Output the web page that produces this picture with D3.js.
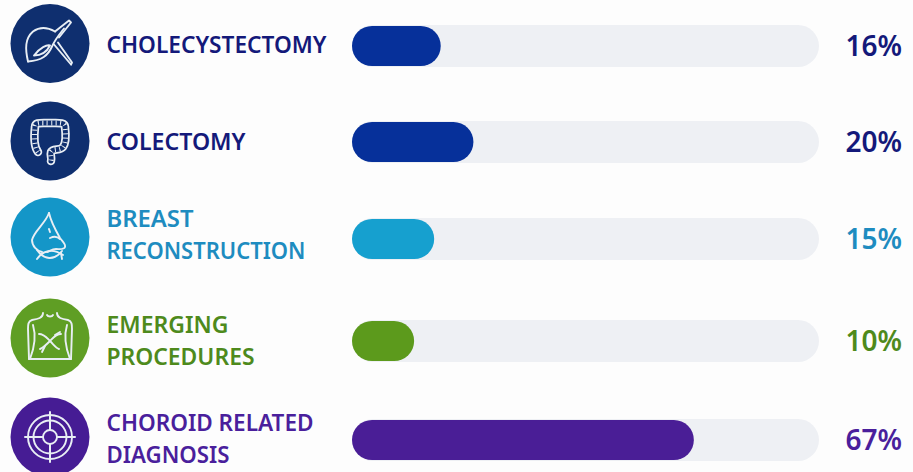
<!DOCTYPE html>
<html>
<head>
<meta charset="utf-8">
<script src="https://cdn.jsdelivr.net/npm/d3@7"></script>
<style>
html, body { margin: 0; padding: 0; background: #fdfdfd; overflow: hidden; }
svg { display: block; }
text { font-family: "Noto Sans", sans-serif; font-weight: 600; }
</style>
</head>
<body>
<svg id="chart"></svg>
<script>
var categories = ["CHOLECYSTECTOMY", "COLECTOMY", "BREAST RECONSTRUCTION", "EMERGING PROCEDURES", "CHOROID RELATED DIAGNOSIS"];
var labelLines = [["CHOLECYSTECTOMY"], ["COLECTOMY"], ["BREAST", "RECONSTRUCTION"], ["EMERGING", "PROCEDURES"], ["CHOROID RELATED", "DIAGNOSIS"]];
var valueLabels = ["16%", "20%", "15%", "10%", "67%"];
// filled length as a share of the grey track (not the same as the printed %)
var fillShare = [19, 26, 17.6, 13.3, 73.2];
var iconNames = ["liver", "colon", "nose", "torso", "target"];

var circleColors = ["#0f2f6f", "#0f2f6f", "#1496c8", "#5f9e24", "#461c94"];
var barColors = ["#06309a", "#06309a", "#16a0cf", "#5c9a1c", "#4a1e96"];
var textColors = ["#14197a", "#14197a", "#1e8cc0", "#4e8a1c", "#4a1f9c"];

var width = 913, height = 472;

var svg = d3.select("#chart").attr("width", width).attr("height", height);

var x = d3.scaleLinear().domain([0, 100]).range([352, 819]);
var yBar = d3.scaleOrdinal().domain(categories).range([46, 142, 239, 341, 440]);
var yIcon = d3.scaleOrdinal().domain(categories).range([43.5, 141, 237, 338, 437]);
var yLabel = d3.scaleOrdinal().domain(categories).range([45, 141.5, 235, 341, 439]);

// printed width of each label line, these do not follow one font size exactly
var lineWidths = d3.scaleOrdinal()
    .domain(["CHOLECYSTECTOMY", "COLECTOMY", "BREAST", "RECONSTRUCTION", "EMERGING", "PROCEDURES", "CHOROID RELATED", "DIAGNOSIS"])
    .range([220, 139, 87, 199, 122, 148, 207, 123]);

var rows = svg.selectAll(".row").data(categories).enter().append("g").attr("class", "row");

rows.append("rect")
    .attr("x", x(0))
    .attr("y", d => yBar(d) - 21)
    .attr("width", x(100) - x(0))
    .attr("height", 42)
    .attr("rx", 21)
    .attr("fill", "#eef0f4");

rows.append("rect")
    .attr("x", x(0))
    .attr("y", d => yBar(d) - 20)
    .attr("width", (d, i) => x(fillShare[i]) - x(0))
    .attr("height", 40)
    .attr("rx", 20)
    .attr("fill", (d, i) => barColors[i]);

rows.append("text")
    .attr("x", 902)
    .attr("y", d => yBar(d) + 9.5)
    .attr("text-anchor", "end")
    .attr("font-size", 28)
    .attr("fill", (d, i) => textColors[i])
    .text((d, i) => valueLabels[i]);

rows.each(function(d, i) {
    var lines = labelLines[i];
    var g = d3.select(this);
    lines.forEach(function(line, j) {
        g.append("text")
            .attr("x", 106.5)
            .attr("y", yLabel(d) + 8 + (j - (lines.length - 1) / 2) * 32)
            .attr("font-size", 23)
            .attr("textLength", lineWidths(line))
            .attr("lengthAdjust", "spacingAndGlyphs")
            .attr("fill", textColors[i])
            .text(line);
    });
});

var icons = rows.append("g")
    .attr("transform", d => "translate(50," + yIcon(d) + ")");

icons.append("circle")
    .attr("r", 39.5)
    .attr("fill", (d, i) => circleColors[i]);

var glyphs = icons.append("g")
    .attr("fill", "none")
    .attr("stroke", "#e8eef4")
    .attr("stroke-width", 1.9)
    .attr("stroke-linecap", "round")
    .attr("stroke-linejoin", "round");

var iconDraw = {
    liver: function(g) {
        ["M-22,18C-25,5 -25,-5 -17,-12C-10,-17 -2,-16 5,-12",
         "M-22,18C-8,17 -2,12 2,3C5,-4 10,-10 14,-15",
         "M-16,12C-10,4 -3,1 0,2C-3,8 -9,12 -16,12",
         "M5,-12L19,-23L21,-21L9,-6",
         "M4,1L21,21",
         "M8,-1L22,19L21,21"
        ].forEach(p => g.append("path").attr("d", p));
    },
    colon: function(g) {
        var route = "M-12,11C-16,6 -16,-5 -15,-14C-15,-19 -10,-18 0,-18C8,-18 15,-19 15,-14C16,-6 16,2 13,6C10,10 3,7 1,11C0,14 2,17 1,20";
        g.append("path").attr("d", route).attr("stroke-width", 8.5);
        g.append("path").attr("d", route).attr("stroke-width", 5).attr("stroke", "#0f2f6f");
        g.append("path").attr("d", route).attr("stroke-width", 5).attr("stroke-dasharray", "1 3.4").attr("stroke-linecap", "butt").attr("stroke", "#e8eef4");
    },
    nose: function(g) {
        ["M-1,-24C-5,-13 -16,-6 -18,3C-18,9 -13,14 -8,15",
         "M-1,-24C1,-15 6,-6 10,1C13,5 16,7 15,10C14,13 10,12 6,12C2,12 0,14 -3,15",
         "M-1,-8L0,-5",
         "M0,1C4,-1 8,0 10,2",
         "M-13,22C-6,12 4,12 13,18",
         "M-13,13C-6,23 4,24 12,14",
         "M11,16L12,22"
        ].forEach(p => g.append("path").attr("d", p));
    },
    torso: function(g) {
        ["M-7,-25C-7,-20 -12,-19 -18,-18C-22,-17 -22,-13 -22,-9L-21,21",
         "M7,-25C7,-20 12,-19 18,-18C22,-17 22,-13 22,-9L21,21",
         "M-3,-23C-2,-21 2,-21 3,-23",
         "M-17,-13C-14,-3 -15,8 -20,21",
         "M17,-13C14,-3 15,8 20,21",
         "M-21,21L21,21",
         "M-11,-4C-6,-4 -3,0 0,3C4,7 6,10 9,11",
         "M11,-4C6,-4 3,0 0,3C-4,7 -7,10 -10,11",
         "M-5,8L-8,14", "M5,-3L10,-6"
        ].forEach(p => g.append("path").attr("d", p));
    },
    target: function(g) {
        [22, 16.5, 7].forEach(r => g.append("circle").attr("r", r));
        ["M-25,0L-7,0", "M7,0L25,0", "M0,-25L0,-7", "M0,7L0,25"].forEach(p => g.append("path").attr("d", p).attr("stroke-width", 2));
    }
};

glyphs.each(function(d, i) { iconDraw[iconNames[i]](d3.select(this)); });
</script>
</body>
</html>
